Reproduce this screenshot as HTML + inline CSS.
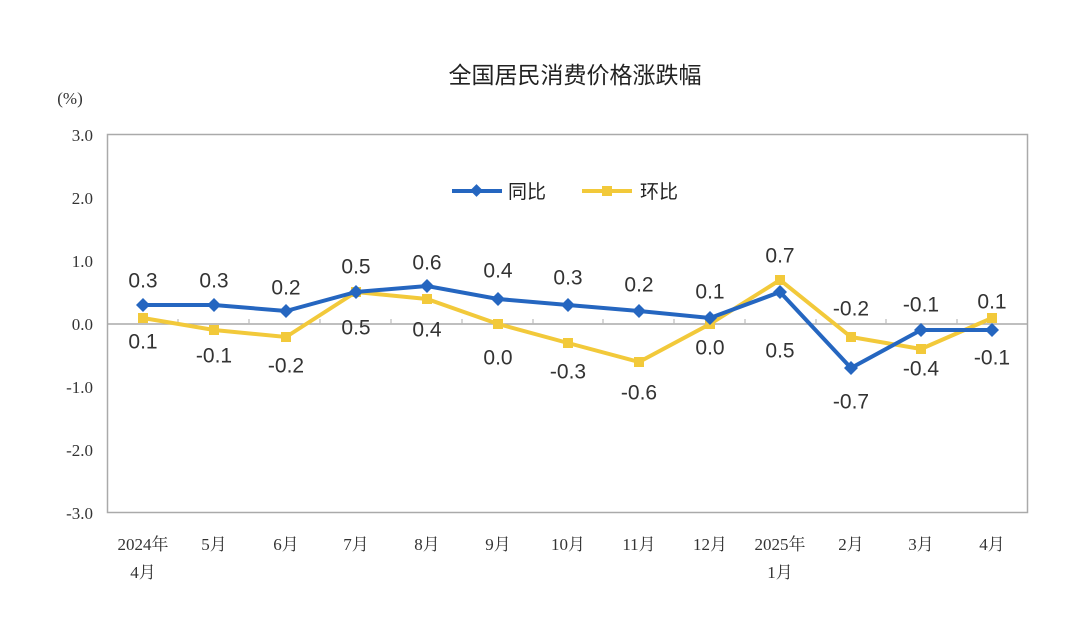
<!DOCTYPE html>
<html><head><meta charset="utf-8"><style>body{margin:0;background:#fff}</style></head><body>
<svg width="1080" height="627" xmlns="http://www.w3.org/2000/svg" font-family="Liberation Sans, Noto Sans CJK SC, sans-serif">
<rect width="1080" height="627" fill="#fff"/>
<text x="575" y="83" font-size="23" text-anchor="middle" fill="#222">全国居民消费价格涨跌幅</text>
<text x="70" y="104" font-size="17" text-anchor="middle" fill="#333" font-family="Liberation Serif, serif">(%)</text>
<rect x="107.5" y="134.5" width="920" height="378" fill="none" stroke="#aaa" stroke-width="1.5"/>
<line x1="107" y1="324" x2="1028" y2="324" stroke="#aaa" stroke-width="1.5"/>
<g font-family="Liberation Serif, serif" font-size="17" fill="#333" text-anchor="end">
<text x="93" y="141">3.0</text><text x="93" y="204">2.0</text><text x="93" y="267">1.0</text><text x="93" y="330">0.0</text><text x="93" y="393">-1.0</text><text x="93" y="456">-2.0</text><text x="93" y="519">-3.0</text>
</g>
<g stroke="#bbb" stroke-width="1.2">
<line x1="178" y1="324" x2="178" y2="319"/><line x1="249" y1="324" x2="249" y2="319"/><line x1="320" y1="324" x2="320" y2="319"/><line x1="391" y1="324" x2="391" y2="319"/><line x1="462" y1="324" x2="462" y2="319"/><line x1="533" y1="324" x2="533" y2="319"/><line x1="603" y1="324" x2="603" y2="319"/><line x1="674" y1="324" x2="674" y2="319"/><line x1="745" y1="324" x2="745" y2="319"/><line x1="816" y1="324" x2="816" y2="319"/><line x1="886" y1="324" x2="886" y2="319"/><line x1="957" y1="324" x2="957" y2="319"/>
</g>
<g font-family="Liberation Serif, Noto Serif CJK SC, serif" font-size="17" fill="#333" text-anchor="middle">
<text x="143" y="550">2024年</text><text x="143" y="578">4月</text>
<text x="214" y="550">5月</text><text x="286" y="550">6月</text><text x="356" y="550">7月</text><text x="427" y="550">8月</text><text x="498" y="550">9月</text><text x="568" y="550">10月</text><text x="639" y="550">11月</text><text x="710" y="550">12月</text>
<text x="780" y="550">2025年</text><text x="780" y="578">1月</text>
<text x="851" y="550">2月</text><text x="921" y="550">3月</text><text x="992" y="550">4月</text>
</g>
<!-- legend -->
<line x1="452" y1="191" x2="502" y2="191" stroke="#2566c0" stroke-width="4"/>
<rect x="472" y="186" width="9" height="9" fill="#2566c0" transform="rotate(45 476.5 190.5)"/>
<text x="508" y="198" font-size="19" fill="#222">同比</text>
<line x1="582" y1="191" x2="632" y2="191" stroke="#f2c93a" stroke-width="4"/>
<rect x="602" y="186" width="10" height="10" fill="#f2c93a"/>
<text x="640" y="198" font-size="19" fill="#222">环比</text>
<!-- yellow series -->
<polyline fill="none" stroke="#f2c93a" stroke-width="4" points="143,318 214,330 286,337 356,292 427,299 498,324 568,343 639,362 710,324 780,280 851,337 921,349 992,318"/>
<g fill="#f2c93a">
<rect x="138" y="313" width="10" height="10"/><rect x="209" y="325" width="10" height="10"/><rect x="281" y="332" width="10" height="10"/><rect x="351" y="287" width="10" height="10"/><rect x="422" y="294" width="10" height="10"/><rect x="493" y="319" width="10" height="10"/><rect x="563" y="338" width="10" height="10"/><rect x="634" y="357" width="10" height="10"/><rect x="705" y="319" width="10" height="10"/><rect x="775" y="275" width="10" height="10"/><rect x="846" y="332" width="10" height="10"/><rect x="916" y="344" width="10" height="10"/><rect x="987" y="313" width="10" height="10"/>
</g>
<!-- blue series -->
<polyline fill="none" stroke="#2566c0" stroke-width="4" points="143,305 214,305 286,311 356,292 427,286 498,299 568,305 639,311 710,318 780,292 851,368 921,330 992,330"/>
<g fill="#2566c0">
<path d="M143,298 l7,7 l-7,7 l-7,-7z"/><path d="M214,298 l7,7 l-7,7 l-7,-7z"/><path d="M286,304 l7,7 l-7,7 l-7,-7z"/><path d="M356,285 l7,7 l-7,7 l-7,-7z"/><path d="M427,279 l7,7 l-7,7 l-7,-7z"/><path d="M498,292 l7,7 l-7,7 l-7,-7z"/><path d="M568,298 l7,7 l-7,7 l-7,-7z"/><path d="M639,304 l7,7 l-7,7 l-7,-7z"/><path d="M710,311 l7,7 l-7,7 l-7,-7z"/><path d="M780,285 l7,7 l-7,7 l-7,-7z"/><path d="M851,361 l7,7 l-7,7 l-7,-7z"/><path d="M921,323 l7,7 l-7,7 l-7,-7z"/><path d="M992,323 l7,7 l-7,7 l-7,-7z"/>
</g>
<g font-size="21" fill="#333" text-anchor="middle" dominant-baseline="central">
<text x="143" y="281">0.3</text><text x="214" y="281">0.3</text><text x="286" y="288">0.2</text><text x="356" y="267">0.5</text><text x="427" y="263">0.6</text><text x="498" y="271">0.4</text><text x="568" y="278">0.3</text><text x="639" y="285">0.2</text><text x="710" y="292">0.1</text><text x="780" y="351">0.5</text><text x="851" y="402">-0.7</text><text x="921" y="305">-0.1</text><text x="992" y="358">-0.1</text>
<text x="143" y="342">0.1</text><text x="214" y="356">-0.1</text><text x="286" y="366">-0.2</text><text x="356" y="328">0.5</text><text x="427" y="330">0.4</text><text x="498" y="358">0.0</text><text x="568" y="372">-0.3</text><text x="639" y="393">-0.6</text><text x="710" y="348">0.0</text><text x="780" y="256">0.7</text><text x="851" y="309">-0.2</text><text x="921" y="369">-0.4</text><text x="992" y="302">0.1</text>
</g>
</svg>
</body></html>
